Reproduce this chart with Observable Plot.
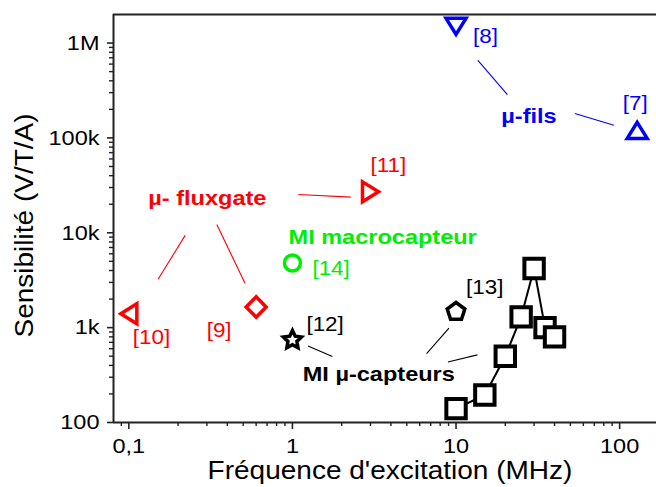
<!DOCTYPE html>
<html><head><meta charset="utf-8">
<script src="https://cdn.jsdelivr.net/npm/d3@7"></script>
<script src="https://cdn.jsdelivr.net/npm/@observablehq/plot@0.6"></script>
<style>html,body{margin:0;padding:0;background:#fff} #chart svg{display:block}</style>
</head><body><div id="chart"></div>
<script>
// ---- data ----
const refLabels = ["[10]", "[9]", "[11]", "[14]", "[12]", "[13]", "[8]", "[7]"];
const freqs     = [0.1, 0.6, 3, 1, 1, 10, 10, 128];             // MHz
const sens      = [1400, 1650, 27000, 4800, 750, 1500, 1500000, 120000]; // V/T/A
const groups    = ["fluxgate", "fluxgate", "fluxgate", "macro", "micro", "micro", "fils", "fils"];
const shapes    = ["triangle-left", "diamond", "triangle-right", "circle", "star", "pentagon", "triangle-down", "triangle-up"];

// MI µ-capteurs series (squares)
const sqFreq = [10, 15, 20, 25, 30, 35, 40];
const sqSens = [140, 195, 500, 1300, 4200, 1000, 800];

// group labels (data units)
const groupNames = ["µ- fluxgate", "MI macrocapteur", "MI µ-capteurs", "µ-fils"];
const groupKeys  = ["fluxgate", "macro", "micro", "fils"];
const groupX     = [0.302, 3.56, 3.37, 27.9];
const groupY     = [23200, 9060, 323, 168000];

// leader lines (data units)
const leadX1 = [0.221, 0.345, 1.088, 13.6, 53.3, 1.245, 9.05, 8.92];
const leadY1 = [9390, 12250, 25350, 657000, 180700, 641, 986, 435];
const leadX2 = [0.151, 0.513, 2.27, 20.6, 92.2, 1.755, 6.61, 13.5];
const leadY2 = [3230, 2930, 23770, 286000, 136100, 495, 532, 516];
const leadGroup = ["fluxgate", "fluxgate", "fluxgate", "fils", "fils", "micro", "micro", "micro"];

// axes
const xTicks = [0.1, 1, 10, 100];
const xTickLabels = ["0,1", "1", "10", "100"];
const xMinor = [0.09, 0.2, 0.3, 0.4, 0.5, 0.6, 0.7, 0.8, 0.9, 2, 3, 4, 5, 6, 7, 8, 9, 20, 30, 40, 50, 60, 70, 80, 90];
const yTicks = [100, 1000, 10000, 100000, 1000000];
const yTickLabels = ["100", "1k", "10k", "100k", "1M"];
const yMinor = [200, 300, 400, 500, 600, 700, 800, 900, 2000, 3000, 4000, 5000, 6000, 7000, 8000, 9000,
  20000, 30000, 40000, 50000, 60000, 70000, 80000, 90000, 200000, 300000, 400000, 500000, 600000, 700000, 800000, 900000];
const xTitle = "Fréquence d'excitation (MHz)";
const yTitle = "Sensibilité (V/T/A)";

// ---- styling ----
const groupColor = {fluxgate: "#ff0000", macro: "#00ee00", micro: "#000000", fils: "#0000ff"};
const labelOffset = {
  "[10]": {dx: 4, dy: 24, anchor: "start"},
  "[9]":  {dx: -37, dy: 24, anchor: "middle"},
  "[11]": {dx: 0, dy: -26, anchor: "start"},
  "[14]": {dx: 20, dy: 6, anchor: "start"},
  "[12]": {dx: 14, dy: -15, anchor: "start"},
  "[13]": {dx: 10, dy: -23, anchor: "start"},
  "[8]":  {dx: 17, dy: 10, anchor: "start"},
  "[7]":  {dx: -2, dy: -27, anchor: "middle"}
};

function poly(p) {
  return {draw(ctx, size) {
    const r = Math.sqrt(size / Math.PI);
    ctx.moveTo(p[0][0] * r, p[0][1] * r);
    for (let i = 1; i < p.length; i++) ctx.lineTo(p[i][0] * r, p[i][1] * r);
    ctx.closePath();
  }};
}
function starPts(R, ri) {
  const a = [];
  for (let k = 0; k < 10; k++) {
    const ang = -Math.PI / 2 + k * Math.PI / 5, rr = k % 2 ? ri : R;
    a.push([rr * Math.cos(ang), rr * Math.sin(ang) + 0.05]);
  }
  return a;
}
function pentPts(R) {
  const a = [];
  for (let k = 0; k < 5; k++) {
    const ang = -Math.PI / 2 + k * 2 * Math.PI / 5;
    a.push([R * Math.cos(ang), R * Math.sin(ang) + 0.09]);
  }
  return a;
}
const symbols = {
  "triangle-up": poly([[0, -0.8], [1, 0.8], [-1, 0.8]]),
  "triangle-down": poly([[0, 0.8], [1, -0.8], [-1, -0.8]]),
  "triangle-left": poly([[-0.8, 0], [0.8, -1], [0.8, 1]]),
  "triangle-right": poly([[0.8, 0], [-0.8, -1], [-0.8, 1]]),
  "diamond": poly([[0, -1.02], [1, 0], [0, 1.02], [-1, 0]]),
  "square": poly([[-0.97, -0.97], [0.97, -0.97], [0.97, 0.97], [-0.97, 0.97]]),
  "star": poly(starPts(0.95, 0.47)),
  "pentagon": poly(pentPts(0.93)),
  "circle": {draw(ctx, size) { const r = Math.sqrt(size / Math.PI) * 0.8; ctx.moveTo(r, 0); ctx.arc(0, 0, r, 0, 2 * Math.PI); }}
};

const pts = refLabels.map((ref, i) => ({ref, f: freqs[i], s: sens[i], group: groups[i], shape: shapes[i]}));
const squares = sqFreq.map((f, i) => ({f, s: sqSens[i]}));
const leaders = leadX1.map((x1, i) => ({x1, y1: leadY1[i], x2: leadX2[i], y2: leadY2[i], group: leadGroup[i]}));
const glabels = groupNames.map((name, i) => ({name, x: groupX[i], y: groupY[i], group: groupKeys[i]}));

const xDomain = [0.0806, 168];
const yDomain = [100, 2000000];

const marks = [
  Plot.ruleY([yDomain[1]], {stroke: "#222", strokeWidth: 2}),
  Plot.axisY({ticks: yMinor, tickSize: 4, tickFormat: () => "", strokeWidth: 1.4, stroke: "#222"}),
  Plot.axisY({ticks: yTicks, tickSize: 6, tickPadding: 8, strokeWidth: 1.6, stroke: "#222",
    tickFormat: d => yTickLabels[yTicks.indexOf(d)], fontSize: 21, fill: "#000"}),
  Plot.axisX({ticks: xMinor, tickSize: 4, tickFormat: () => "", strokeWidth: 1.4, stroke: "#222"}),
  Plot.axisX({ticks: xTicks, tickSize: 7, tickPadding: 9, strokeWidth: 1.6, stroke: "#222",
    tickFormat: d => xTickLabels[xTicks.indexOf(d)], fontSize: 21, fill: "#000"}),
  Plot.ruleX([xDomain[0]], {stroke: "#222", strokeWidth: 2}),
  Plot.ruleY([yDomain[0]], {stroke: "#222", strokeWidth: 2}),
  Plot.link(leaders, {x1: "x1", y1: "y1", x2: "x2", y2: "y2", stroke: d => groupColor[d.group], strokeWidth: 1.1}),
  Plot.line(squares, {x: "f", y: "s", stroke: "#000", strokeWidth: 2}),
  Plot.dot(squares, {x: "f", y: "s", symbol: symbols.square, r: 10, stroke: "#000", strokeWidth: 4, fill: "white"}),
  ...pts.map(p => Plot.dot([p], {x: "f", y: "s", symbol: symbols[p.shape], r: 10,
    stroke: groupColor[p.group], strokeWidth: 3.5, fill: "white"})),
  ...pts.map(p => Plot.text([p], {x: "f", y: "s", text: "ref", dx: labelOffset[p.ref].dx, dy: labelOffset[p.ref].dy,
    textAnchor: labelOffset[p.ref].anchor, fill: groupColor[p.group], fontSize: 20})),
  Plot.text(glabels, {x: "x", y: "y", text: "name", fill: d => groupColor[d.group], fontSize: 21, fontWeight: "bold"}),
  Plot.text([xTitle], {frameAnchor: "bottom", text: d => d, textAnchor: "middle", dx: 5, dy: 56, fontSize: 25, fill: "#000"}),
  Plot.text([yTitle], {frameAnchor: "left", text: d => d, textAnchor: "middle", rotate: -90, dx: -89, dy: 7, fontSize: 25, fill: "#000"})
];

const svg = Plot.plot({
  width: 656, height: 487,
  marginLeft: 113, marginRight: 0, marginTop: 14, marginBottom: 65,
  x: {type: "log", domain: xDomain, axis: null},
  y: {type: "log", domain: yDomain, axis: null},
  color: {type: "identity"},
  style: {fontFamily: "'Liberation Sans', Arial, sans-serif", fontSize: "21px", background: "white", color: "#000", overflow: "visible"},
  marks
});
document.getElementById("chart").append(svg);
// the reference's lettering is ~12% wider than Arial: stretch each text along its own direction
svg.querySelectorAll("text").forEach(t => {
  const L = t.getComputedTextLength();
  if (L > 0) { t.setAttribute("textLength", (L * 1.12).toFixed(2)); t.setAttribute("lengthAdjust", "spacingAndGlyphs"); }
});
</script>
</body></html>
